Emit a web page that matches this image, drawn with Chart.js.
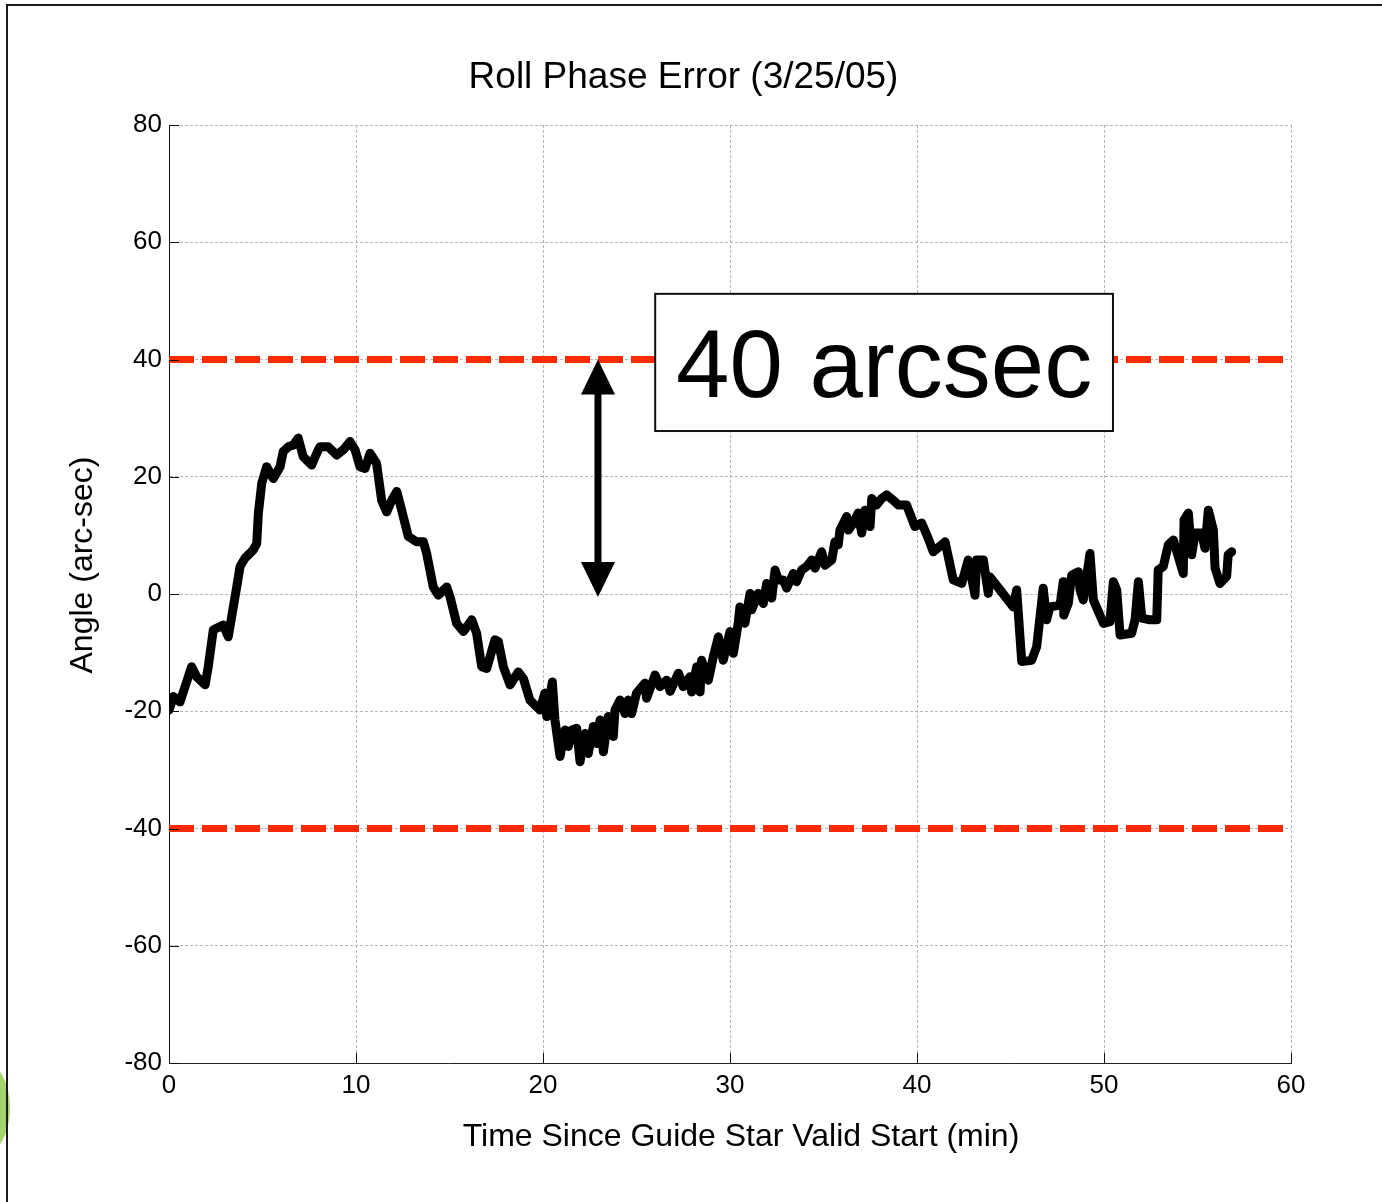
<!DOCTYPE html>
<html>
<head>
<meta charset="utf-8">
<title>Roll Phase Error (3/25/05)</title>
<script src="https://cdn.jsdelivr.net/npm/chart.js@4.4.1/dist/chart.umd.min.js"></script>
<style>
    html, body { margin: 0; padding: 0; background: #ffffff; }
    #wrap { width: 1382px; height: 1202px; position: relative; }
</style>
</head>
<body>
<div id="wrap"><canvas id="roll-chart" width="1382" height="1202"></canvas></div>
<script>
// Roll phase error trace (minutes, arc-sec)
const timeMin = [
    0, 0.23, 0.59, 0.86, 1.21, 1.48, 1.93, 2.1, 2.37, 2.9, 3.17, 3.35, 3.62, 3.8, 4.06, 4.5, 4.69, 4.78, 4.96,
    5.22, 5.58, 5.94, 6.11, 6.38, 6.65, 6.91, 7.18, 7.63, 7.9, 8.07, 8.52, 8.97, 9.32, 9.68, 9.95,
    10.21, 10.48, 10.75, 11.1, 11.37, 11.64, 11.91, 12.18, 12.44, 12.8, 13.24, 13.6, 13.78, 14.13, 14.4, 14.85,
    15.03, 15.38, 15.74, 16.19, 16.45, 16.72, 16.99, 17.43, 17.61, 17.88, 18.24, 18.68, 18.95, 19.3, 19.84,
    20.1, 20.2, 20.5, 20.64, 20.91, 21.18, 21.36, 21.54, 21.8, 21.98, 22.25, 22.42, 22.69, 22.87, 23.05,
    23.23, 23.49, 23.76, 23.85, 24.12, 24.39, 24.56, 24.74, 25.0, 25.45, 25.54, 25.99, 26.26, 26.61, 26.8,
    27.24, 27.5, 27.86, 27.95, 28.22, 28.4, 28.48, 28.84, 29.11, 29.38, 29.64, 30.0, 30.18, 30.44, 30.53,
    30.8, 31.07, 31.16, 31.51, 31.78, 31.96, 32.23, 32.41, 32.58, 32.85, 33.03, 33.39, 33.56, 33.83, 34.1,
    34.37, 34.55, 34.9, 35.08, 35.44, 35.61, 35.79, 35.88, 36.24, 36.33, 36.6, 36.86, 37.04, 37.22, 37.49,
    37.58, 37.84, 38.11, 38.38, 38.73, 39.0, 39.44, 39.89, 40.25, 40.6, 40.87, 41.5, 41.94, 42.39, 42.74,
    43.1, 43.19, 43.55, 43.81, 43.9, 44.44, 45.15, 45.33, 45.6, 46.13, 46.4, 46.75, 46.93, 47.11, 47.65,
    47.82, 47.85, 48.09, 48.27, 48.63, 48.72, 48.89, 49.25, 49.43, 49.97, 50.32, 50.5, 50.68, 50.86, 51.48,
    51.66, 51.84, 52.02, 52.46, 52.82, 52.9, 53.17, 53.44, 53.71, 53.97, 54.24, 54.28, 54.51, 54.69, 54.87,
    55.22, 55.4, 55.58, 55.85, 55.94, 56.2, 56.56, 56.64, 56.83,
];
const angleArcsec = [
    -19.8, -17.5, -18.4, -15.8, -12.4, -14.1, -15.5, -12.4, -6.1, -5.3, -7.3, -3.9, 1.2, 4.7, 6.1, 7.5, 8.6, 13.8, 18.9,
    21.7, 19.7, 21.7, 24.3, 25.1, 25.4, 26.6, 23.4, 22.0, 24.0, 25.1, 25.1, 23.7, 24.6, 26.0, 24.6,
    21.7, 21.4, 24.0, 22.3, 16.0, 14.0, 16.0, 17.5, 14.3, 9.8, 8.9, 8.9, 6.9, 1.2, -0.2, 1.2,
    -0.5, -5.0, -6.4, -4.4, -6.7, -12.4, -12.7, -7.8, -8.1, -12.4, -15.5, -13.3, -14.4, -18.1, -19.8,
    -16.9, -20.9, -15.0, -21.5, -27.7, -23.2, -26.0, -23.2, -22.9, -28.6, -23.8, -27.2, -22.6, -25.5, -21.5,
    -26.9, -20.9, -24.3, -19.8, -18.1, -20.4, -18.1, -20.4, -16.9, -15.2, -17.8, -13.8, -15.8, -14.7, -16.6,
    -13.5, -15.8, -14.1, -16.7, -12.4, -16.7, -11.3, -14.7, -10.7, -7.3, -11.3, -6.4, -10.1, -5.0, -2.2,
    -5.0, 0.1, -2.7, 0.1, -1.6, 1.8, -0.7, 4.1, 2.4, 2.4, 1.0, 3.5, 2.1, 4.1, 4.7,
    5.8, 4.4, 7.2, 4.9, 5.8, 8.9, 8.4, 10.9, 13.2, 10.9, 12.1, 13.8, 10.4, 14.3, 11.5,
    16.3, 15.2, 16.3, 16.9, 16.0, 15.2, 15.2, 11.5, 12.1, 9.5, 7.2, 8.9, 2.4, 1.8, 5.8,
    -0.2, 5.8, 5.8, 0.1, 2.9, 0.7, -2.2, 0.7, -11.5, -11.3, -9.0, 1.0, -4.4, -2.2, -1.9,
    2.1, -3.6, -1.6, 3.2, 3.8, 0.7, -1.0, 6.9, -1.0, -5.0, -4.7, 2.1, 0.7, -7.0, -6.7,
    -4.4, 2.1, -4.1, -4.4, -4.4, 4.1, 4.7, 8.4, 9.2, 6.4, 3.5, 12.6, 13.8, 6.7, 10.4,
    10.4, 7.8, 14.3, 10.9, 4.4, 1.8, 3.0, 6.7, 7.2,
];

// Limit lines and axis ticks
const limitTimes = [0, 60];
const upperLimit = [40, 40];
const lowerLimit = [-40, -40];
const xTicks = [0, 10, 20, 30, 40, 50, 60];
const yTicks = [-80, -60, -40, -20, 0, 20, 40, 60, 80];

// Annotation: "40 arcsec" box and the double arrow (in data units)
const boxLabel = '40 arcsec';
const boxCorners = { x1: 26.0, x2: 50.48, yTop: 51.2, yBottom: 27.8 };
const arrowSpan = { x: 22.94, yTop: 40, yBottom: -0.5 };

const FONT = "'Liberation Sans', Arial, Helvetica, sans-serif";

const toPoints = (xs, ys) => xs.map((x, i) => ({ x, y: ys[i] }));

// Paper background, slide frame and the bit of green logo at the left edge
const framePlugin = {
    id: 'frame',
    beforeDraw(chart) {
        const { ctx } = chart;
        ctx.save();
        ctx.fillStyle = '#ffffff';
        ctx.fillRect(0, 0, chart.width, chart.height);
        ctx.fillStyle = '#a6d36e';
        ctx.beginPath();
        ctx.ellipse(-16, 1108, 26, 46, 0, 0, Math.PI * 2);
        ctx.fill();
        ctx.strokeStyle = '#1a1a1a';
        ctx.lineWidth = 2;
        ctx.beginPath();
        ctx.moveTo(7, chart.height);
        ctx.lineTo(7, 5);
        ctx.lineTo(chart.width, 5);
        ctx.stroke();
        ctx.restore();
    },
};

// Inward tick marks, axis titles, boxed label and double arrow
const annotationPlugin = {
    id: 'annotations',
    afterDatasetsDraw(chart) {
        const { ctx, chartArea, scales } = chart;
        const xs = scales.x;
        const ys = scales.y;
        ctx.save();

        // inward ticks (matlab style)
        ctx.strokeStyle = '#111';
        ctx.lineWidth = 1;
        ctx.beginPath();
        xTicks.forEach((v) => {
            const px = Math.round(xs.getPixelForValue(v)) + 0.5;
            ctx.moveTo(px, chartArea.bottom);
            ctx.lineTo(px, chartArea.bottom - 10);
        });
        yTicks.forEach((v) => {
            const py = Math.round(ys.getPixelForValue(v)) + 0.5;
            ctx.moveTo(chartArea.left, py);
            ctx.lineTo(chartArea.left + 10, py);
        });
        ctx.stroke();

        // label box
        const bx1 = xs.getPixelForValue(boxCorners.x1);
        const bx2 = xs.getPixelForValue(boxCorners.x2);
        const by1 = ys.getPixelForValue(boxCorners.yTop);
        const by2 = ys.getPixelForValue(boxCorners.yBottom);
        ctx.fillStyle = '#ffffff';
        ctx.fillRect(bx1, by1, bx2 - bx1, by2 - by1);
        ctx.strokeStyle = '#111';
        ctx.lineWidth = 2;
        ctx.strokeRect(bx1, by1, bx2 - bx1, by2 - by1);
        const fs = 96;
        ctx.fillStyle = '#000';
        ctx.font = `${fs}px ${FONT}`;
        ctx.textAlign = 'center';
        ctx.textBaseline = 'alphabetic';
        ctx.fillText(boxLabel, (bx1 + bx2) / 2, (by1 + by2) / 2 + fs * 0.358);

        // double arrow
        const ax = xs.getPixelForValue(arrowSpan.x);
        const aTop = ys.getPixelForValue(arrowSpan.yTop);
        const aBot = ys.getPixelForValue(arrowSpan.yBottom);
        const headH = 35;
        const headW = 17;
        ctx.strokeStyle = '#000';
        ctx.lineWidth = 7;
        ctx.beginPath();
        ctx.moveTo(ax, aTop + headH - 2);
        ctx.lineTo(ax, aBot - headH + 2);
        ctx.stroke();
        ctx.beginPath();
        ctx.moveTo(ax, aTop);
        ctx.lineTo(ax - headW, aTop + headH);
        ctx.lineTo(ax + headW, aTop + headH);
        ctx.closePath();
        ctx.moveTo(ax, aBot);
        ctx.lineTo(ax - headW, aBot - headH);
        ctx.lineTo(ax + headW, aBot - headH);
        ctx.closePath();
        ctx.fill();

        // axis titles (slightly off-centre in the original)
        ctx.font = `32px ${FONT}`;
        ctx.textAlign = 'center';
        ctx.textBaseline = 'middle';
        ctx.fillText('Time Since Guide Star Valid Start (min)', 741, 1137);
        ctx.translate(83, 565);
        ctx.rotate(-Math.PI / 2);
        ctx.fillText('Angle (arc-sec)', 0, 0);

        ctx.restore();
    },
};

const ctx = document.getElementById('roll-chart');

new Chart(ctx, {
    type: 'line',
    data: {
        datasets: [
            {
                label: 'Roll phase error',
                data: toPoints(timeMin, angleArcsec),
                borderColor: '#000000',
                borderWidth: 9,
                borderJoinStyle: 'round',
                borderCapStyle: 'round',
                pointRadius: 0,
                tension: 0,
                order: 1,
            },
            {
                label: '+40 limit',
                data: toPoints(limitTimes, upperLimit),
                borderColor: '#ff2a00',
                borderWidth: 7,
                borderDash: [25, 8],
                borderCapStyle: 'butt',
                pointRadius: 0,
                order: 2,
            },
            {
                label: '-40 limit',
                data: toPoints(limitTimes, lowerLimit),
                borderColor: '#ff2a00',
                borderWidth: 7,
                borderDash: [25, 8],
                borderCapStyle: 'butt',
                pointRadius: 0,
                order: 2,
            },
        ],
    },
    options: {
        responsive: false,
        animation: false,
        devicePixelRatio: 1,
        layout: {
            padding: { left: 76, right: 91, top: 0, bottom: 0 },
        },
        plugins: {
            legend: { display: false },
            tooltip: { enabled: false },
            title: {
                display: true,
                text: 'Roll Phase Error (3/25/05)',
                color: '#000',
                font: { family: FONT, size: 37, weight: 'normal', lineHeight: 1.2 },
                padding: { top: 55.2, bottom: 25.4 },
            },
        },
        scales: {
            x: {
                type: 'linear',
                min: 0,
                max: 60,
                afterBuildTicks: (scale) => {
                    scale.ticks = xTicks.map((value) => ({ value }));
                },
                afterFit: (scale) => {
                    scale.height = 139;
                },
                grid: {
                    color: '#b5b5b5',
                    lineWidth: 1,
                    drawTicks: false,
                },
                border: { display: true, color: '#222', width: 1, dash: [3, 2] },
                ticks: {
                    color: '#000',
                    padding: 7,
                    font: { family: FONT, size: 26 },
                },
            },
            y: {
                type: 'linear',
                min: -80,
                max: 80,
                afterBuildTicks: (scale) => {
                    scale.ticks = yTicks.map((value) => ({ value }));
                },
                afterFit: (scale) => {
                    scale.width = 93;
                },
                grid: {
                    color: '#b5b5b5',
                    lineWidth: 1,
                    drawTicks: false,
                },
                border: { display: true, color: '#111', width: 1, dash: [3, 2] },
                ticks: {
                    color: '#000',
                    padding: 7,
                    font: { family: FONT, size: 26 },
                },
            },
        },
    },
    plugins: [framePlugin, annotationPlugin],
});
</script>
</body>
</html>
